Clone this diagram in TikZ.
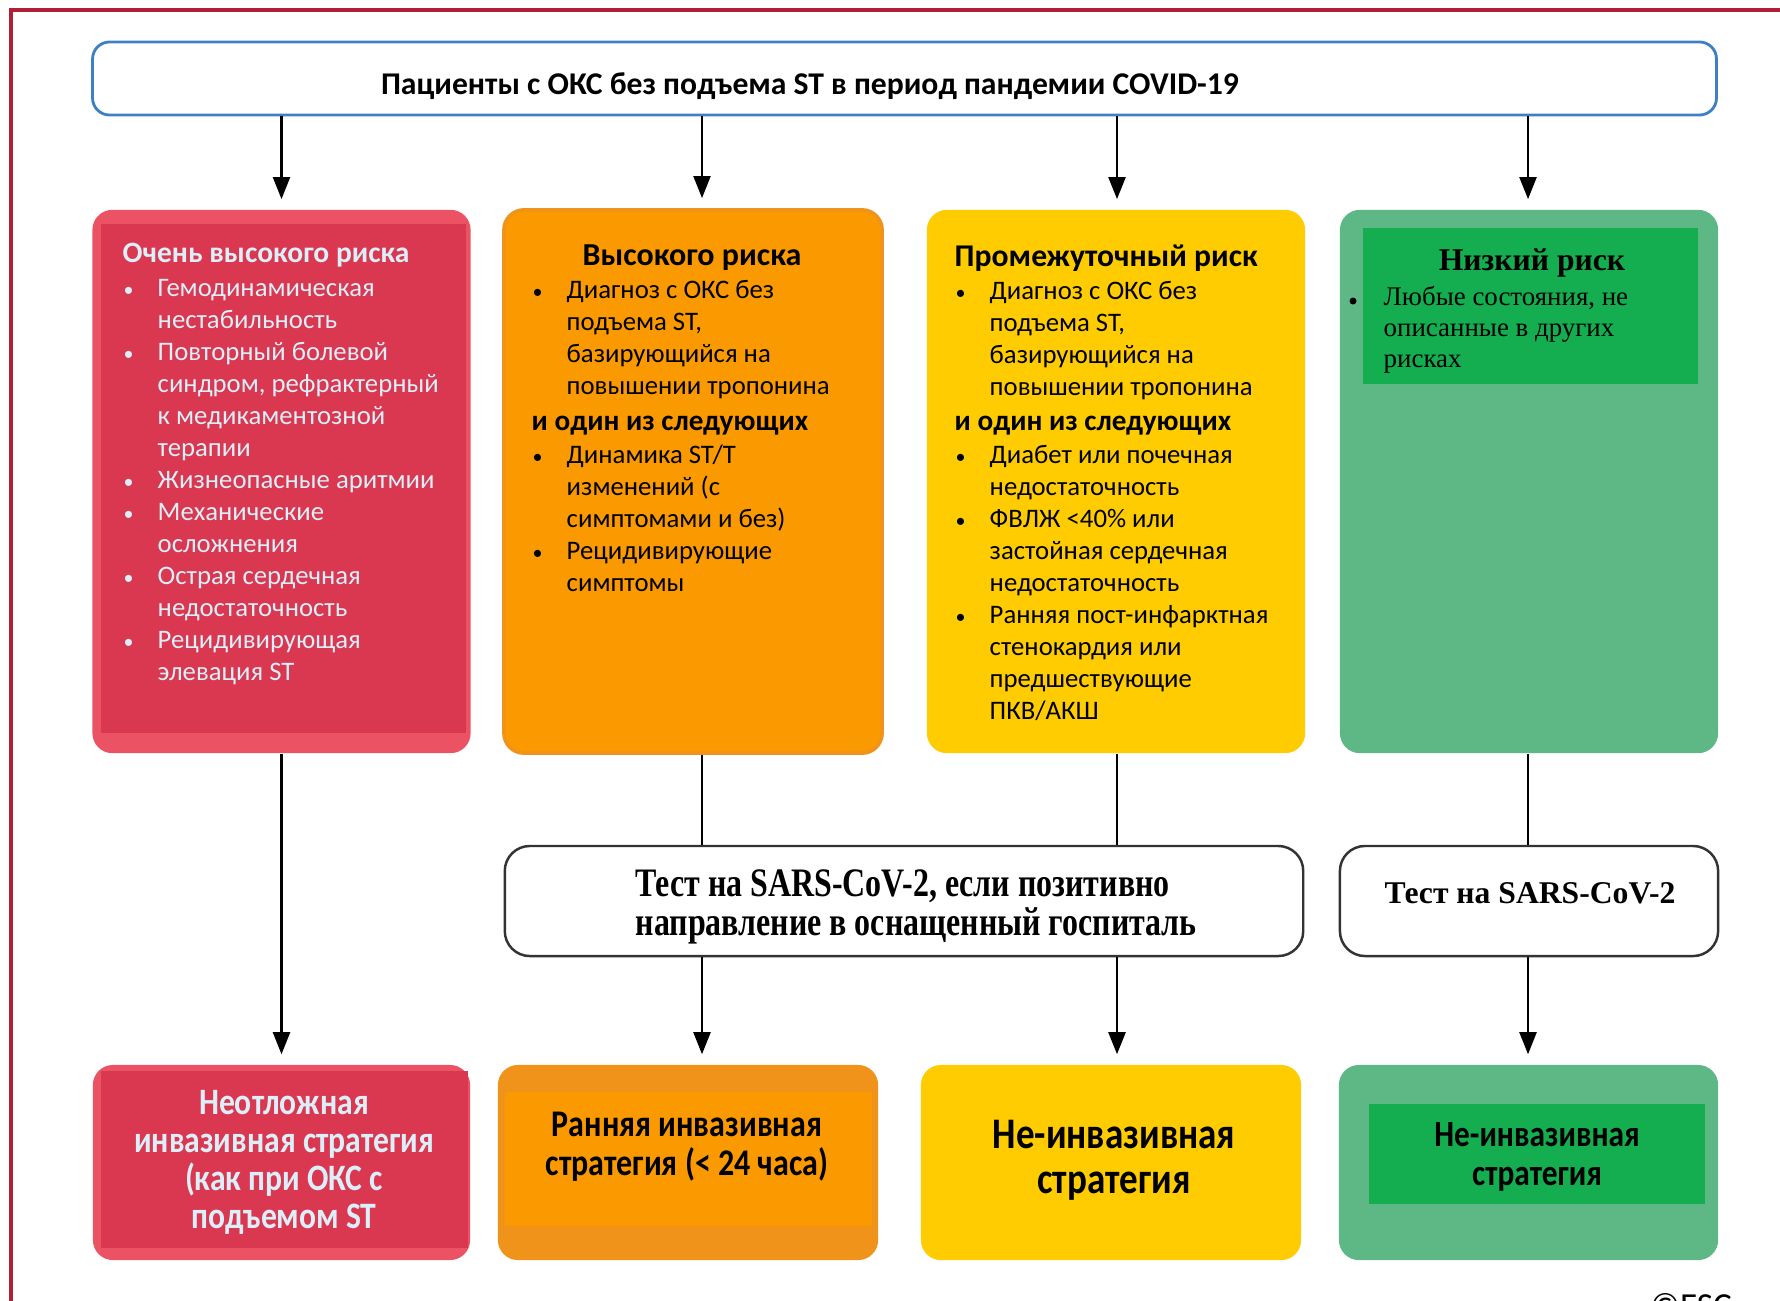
\documentclass[tikz,border=0pt]{standalone}
\usepackage{fontspec}
\usepackage{graphicx}
\setmainfont{Carlito}
\newfontfamily\condsans{Carlito}[FakeStretch=0.85]
\newfontfamily\timesfont{Liberation Serif}
\newfontfamily\condtimes{Liberation Serif}[FakeStretch=0.79]
\usetikzlibrary{arrows.meta,calc}

\definecolor{framered}{HTML}{B01F35}
\definecolor{topblue}{HTML}{3F80C4}
\definecolor{redouter}{HTML}{EB5365}
\definecolor{redinner}{HTML}{DA3751}
\definecolor{orangeouter}{HTML}{F0931B}
\definecolor{orangefill}{HTML}{FB9A00}
\definecolor{yellowfill}{HTML}{FECC00}
\definecolor{greenouter}{HTML}{5EB886}
\definecolor{greeninner}{HTML}{14AD50}
\definecolor{lighttext}{HTML}{DCEFF8}

% bullet and hanging indent for the lists
\newcommand{\bl}{\makebox[3.5mm][l]{\hspace{0.1mm}\scalebox{0.75}{•}}}
\newcommand{\ind}{\hspace*{3.5mm}}
\newcommand{\andone}{{\bfseries\fontsize{8.3}{9.1}\selectfont и один из следующих}}

\begin{document}
\begin{tikzpicture}[x=0.01cm, y=-0.01cm,
  panel/.style={rounded corners=0.2cm, inner sep=0pt, minimum width=3.78cm, minimum height=5.43cm},
  lowpanel/.style={rounded corners=0.2cm, inner sep=0pt, minimum width=3.8cm, minimum height=1.95cm},
  testbox/.style={draw=black!80, line width=0.7pt, rounded corners=0.25cm, fill=white, inner sep=0pt, minimum height=1.1cm},
  arr/.style={line width=0.6pt, -{Triangle[length=2.2mm,width=1.7mm]}, shorten >=1mm},
  link/.style={line width=0.6pt},
  listtext/.style={anchor=north west, inner sep=0pt, align=left, font=\fontsize{7.6}{9.1}\selectfont},
  lowtext/.style={anchor=north, inner sep=0pt, align=center, font=\condsans\bfseries\fontsize{10.6}{10.8}\selectfont},
]
\useasboundingbox (0,0) rectangle (1780,1300);
\fill[white] (0,0) rectangle (1780,1300);
\draw[framered, line width=1.2pt] (11,10) rectangle (1850,1400);

% header
\node[draw=topblue, line width=0.8pt, rounded corners=0.17cm, minimum width=16.23cm, minimum height=0.73cm, inner sep=0pt] (top) at (904.5,78.5) {};
\node[anchor=base, inner sep=0pt, font=\bfseries\fontsize{9}{11}\selectfont] (toptext) at (810,95) {Пациенты с ОКС без подъема ST в период пандемии COVID-19};

% columns
\coordinate (c1) at (281.5,0);
\coordinate (c2) at (702,0);
\coordinate (c3) at (1117,0);
\coordinate (c4) at (1528,0);

% risk groups
\node[panel, fill=redouter] (r1red) at (281.5,481.5) {};
\fill[redinner] ($(r1red.north west)+(9,15)$) rectangle ($(r1red.south east)+(-5,-21)$);
\node[panel, fill=orangefill, draw=orangeouter, line width=1pt] (r1org) at (693,481.5) {};
\node[panel, fill=yellowfill] (r1yel) at (1116,481.5) {};
\node[panel, fill=greenouter] (r1grn) at (1529,481.5) {};
\fill[greeninner] ($(r1grn.north west)+(24,19)$) rectangle ($(r1grn.north east)+(-21,175)$);

\node[listtext, text=lighttext] (redlist) at (122,242) {{\bfseries\fontsize{8.4}{9.1}\selectfont Очень высокого риска}\\[0.6pt]
\bl Гемодинамическая\\ \ind нестабильность\\ \bl Повторный болевой\\ \ind синдром, рефрактерный\\ \ind к медикаментозной\\ \ind терапии\\
\bl Жизнеопасные аритмии\\ \bl Механические\\ \ind осложнения\\ \bl Острая сердечная\\ \ind недостаточность\\ \bl Рецидивирующая\\ \ind элевация ST};

\node[anchor=base, inner sep=0pt, font=\bfseries\fontsize{9.1}{10}\selectfont] (orgtitle) at (692,265) {Высокого риска};
\node[listtext] (orglist) at (531,280) {\bl Диагноз с ОКС без\\ \ind подъема ST,\\ \ind базирующийся на\\ \ind повышении тропонина\\[0.9pt]
\andone\\[0.3pt] \bl Динамика ST/T\\ \ind изменений (с\\ \ind симптомами и без)\\ \bl Рецидивирующие\\ \ind симптомы};

\node[listtext] (yellist) at (954,244) {{\bfseries\fontsize{9}{9.1}\selectfont Промежуточный риск}\\[0.3pt]
\bl Диагноз с ОКС без\\ \ind подъема ST,\\ \ind базирующийся на\\ \ind повышении тропонина\\[0.9pt]
\andone\\[0.3pt] \bl Диабет или почечная\\ \ind недостаточность\\ \bl ФВЛЖ <40\% или\\ \ind застойная сердечная\\ \ind недостаточность\\
\bl Ранняя пост-инфарктная\\ \ind стенокардия или\\ \ind предшествующие\\ \ind ПКВ/АКШ};

\node[anchor=base, inner sep=0pt, font=\timesfont\bfseries\fontsize{9}{11}\selectfont] (grntitle) at (1532,270) {Низкий риск};
\node[anchor=north west, inner sep=0pt, align=left, font=\timesfont\fontsize{7.65}{8.8}\selectfont] (grnlist) at (1383,286) {Любые состояния, не\\ описанные в других\\ рисках};
\fill (1353,301) circle (0.035cm);

% testing
\node[testbox, minimum width=7.98cm] (test1) at (904,901) {};
\node[anchor=north west, inner sep=0pt, align=left, font=\condtimes\bfseries\fontsize{11.5}{11}\selectfont] (test1text) at (635,869) {Тест на SARS-CoV-2, если позитивно\\ направление в оснащенный госпиталь};
\node[testbox, minimum width=3.78cm] (test2) at (1529,901) {};
\node[anchor=base, inner sep=0pt, font=\timesfont\bfseries\fontsize{9}{11}\selectfont] (test2text) at (1530,903) {Тест на SARS-CoV-2};

% strategies
\node[lowpanel, minimum width=3.77cm, fill=redouter] (r3red) at (281.5,1162.5) {};
\fill[redinner] ($(r3red.north west)+(9,7)$) rectangle ($(r3red.south east)+(-3,-13)$);
\node[lowtext, text=lighttext] (r3redtext) at (284,1090) {Неотложная\\ инвазивная стратегия\\ (как при ОКС с\\ подъемом ST};
\node[lowpanel, fill=orangeouter] (r3org) at (688,1162.5) {};
\fill[orangefill] ($(r3org.north west)+(8,28)$) rectangle ($(r3org.south east)+(-7,-35)$);
\node[lowtext, font=\condsans\bfseries\fontsize{10.7}{11.2}\selectfont] (r3orgtext) at (687,1111) {Ранняя инвазивная\\ стратегия (< 24 часа)};
\node[lowpanel, fill=yellowfill] (r3yel) at (1111,1162.5) {};
\node[lowtext, font=\condsans\bfseries\fontsize{12.4}{12.8}\selectfont] (r3yeltext) at (1114,1119) {Не-инвазивная\\ стратегия};
\node[lowpanel, minimum width=3.79cm, fill=greenouter] (r3grn) at (1528.5,1162.5) {};
\fill[greeninner] ($(r3grn.north west)+(31,40)$) rectangle ($(r3grn.south east)+(-14,-57)$);
\node[lowtext, font=\condsans\bfseries\fontsize{10.5}{11}\selectfont] (r3grntext) at (1537,1122) {Не-инвазивная\\ стратегия};

\node[anchor=north west, inner sep=0pt, font=\fontsize{10}{12}\selectfont] (esc) at (1650,1293) {©ESC};

% connectors
\draw[arr] (top.south -| c1) -- (r1red.north -| c1);
\draw[arr] (top.south -| c2) -- (r1org.north -| c2);
\draw[arr] (top.south -| c3) -- (r1yel.north -| c3);
\draw[arr] (top.south -| c4) -- (r1grn.north -| c4);
\draw[arr] (r1red.south -| c1) -- (r3red.north -| c1);
\draw[link] (r1org.south -| c2) -- (test1.north -| c2);
\draw[link] (r1yel.south -| c3) -- (test1.north -| c3);
\draw[link] (r1grn.south -| c4) -- (test2.north -| c4);
\draw[arr] (test1.south -| c2) -- (r3org.north -| c2);
\draw[arr] (test1.south -| c3) -- (r3yel.north -| c3);
\draw[arr] (test2.south -| c4) -- (r3grn.north -| c4);
\end{tikzpicture}
\end{document}
